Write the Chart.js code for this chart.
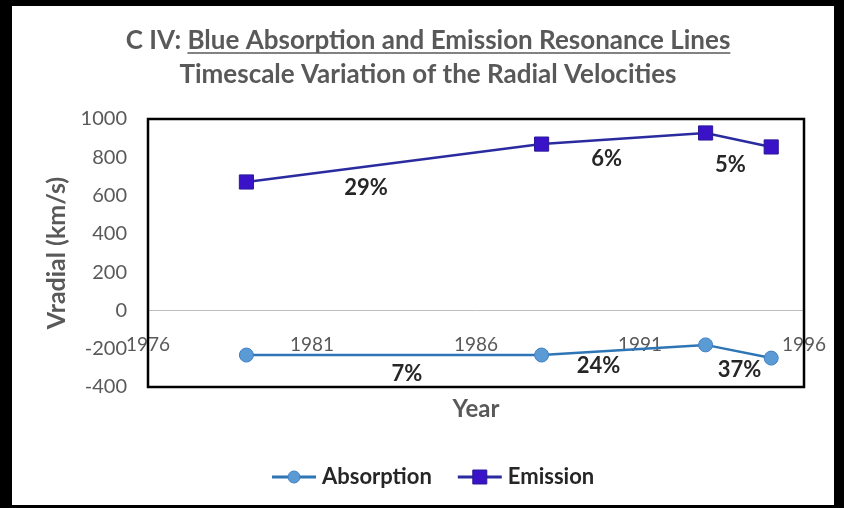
<!DOCTYPE html>
<html>
<head>
<meta charset="utf-8">
<script src="https://cdn.jsdelivr.net/npm/chart.js@4.4.1/dist/chart.umd.min.js"></script>
<style>
  html, body { margin: 0; padding: 0; background: #000; }
  #frame { position: absolute; left: 12px; top: 6px; width: 822px; height: 499px; background: #fff; }
</style>
</head>
<body>
<div id="frame"><canvas id="chart" width="822" height="499"></canvas></div>
<script>
// values
const years = [1979, 1988, 1993, 1995];
const absorption = [-233, -233, -180, -249];
const emission = [671, 869, 927, 854];
// percentage change between consecutive epochs
const absorptionChange = [7, 24, 37];
const emissionChange = [29, 6, 5];
const xTicks = [1976, 1981, 1986, 1991, 1996];
const yTicks = [-400, -200, 0, 200, 400, 600, 800, 1000];

const FONT = 'Lato, "Open Sans", sans-serif';
const GREY = '#595959';

// where each % label sits relative to the middle of its segment (px)
const emissionLabelShift = [[-28, 25], [-17, 20], [-8, 25]];
const absorptionLabelShift = [[13, 19], [-25, 16], [1, 18]];

const decor = {
    id: 'decor',
    beforeDatasetsDraw(chart) {
        const { ctx, chartArea: a } = chart;
        ctx.save();
        ctx.strokeStyle = '#000';
        ctx.lineWidth = 2.5;
        ctx.strokeRect(a.left, a.top, a.right - a.left, a.bottom - a.top);
        ctx.restore();
    },
    afterDraw(chart) {
        const { ctx, chartArea: a, scales } = chart;
        ctx.save();

        // title, second part underlined
        const cx = 416;
        ctx.font = 'bold 26px ' + FONT;
        ctx.fillStyle = GREY;
        ctx.textBaseline = 'alphabetic';
        ctx.textAlign = 'left';
        const pre = 'C IV: ';
        const main = 'Blue Absorption and Emission Resonance Lines';
        const wPre = ctx.measureText(pre).width;
        const wMain = ctx.measureText(main).width;
        let x0 = cx - (wPre + wMain) / 2;
        ctx.fillText(pre, x0, 43);
        ctx.fillText(main, x0 + wPre, 43);
        ctx.strokeStyle = GREY;
        ctx.lineWidth = 1.5;
        ctx.beginPath();
        ctx.moveTo(x0 + wPre, 47);
        ctx.lineTo(x0 + wPre + wMain, 47);
        ctx.stroke();
        ctx.textAlign = 'center';
        ctx.fillText('Timescale Variation of the Radial Velocities', cx, 77);

        // axis title under the plot
        ctx.font = 'bold 24px ' + FONT;
        ctx.textBaseline = 'middle';
        ctx.fillText('Year', (a.left + a.right) / 2, 403);

        // % labels
        ctx.font = 'bold 22px ' + FONT;
        ctx.fillStyle = '#262626';
        const putLabels = (vals, changes, shift) => {
            changes.forEach((c, i) => {
                const mx = (scales.x.getPixelForValue(years[i]) + scales.x.getPixelForValue(years[i + 1])) / 2;
                const my = (scales.y.getPixelForValue(vals[i]) + scales.y.getPixelForValue(vals[i + 1])) / 2;
                ctx.fillText(c + '%', mx + shift[i][0], my + shift[i][1]);
            });
        };
        putLabels(emission, emissionChange, emissionLabelShift);
        putLabels(absorption, absorptionChange, absorptionLabelShift);

        // legend: line with marker, then name
        ctx.font = 'bold 22px ' + FONT;
        ctx.textAlign = 'left';
        let lx = 260;
        const ly = 471;
        chart.data.datasets.forEach(ds => {
            ctx.strokeStyle = ds.borderColor;
            ctx.lineWidth = 3;
            ctx.beginPath();
            ctx.moveTo(lx, ly);
            ctx.lineTo(lx + 44, ly);
            ctx.stroke();
            ctx.fillStyle = ds.pointBackgroundColor;
            ctx.strokeStyle = ds.pointBorderColor;
            ctx.lineWidth = 1;
            ctx.beginPath();
            if (ds.pointStyle === 'rect') {
                ctx.rect(lx + 15, ly - 7, 14, 14);
            } else {
                ctx.arc(lx + 22, ly, 6, 0, Math.PI * 2);
            }
            ctx.fill();
            ctx.stroke();
            ctx.fillStyle = '#262626';
            ctx.fillText(ds.label, lx + 50, ly);
            lx += 50 + ctx.measureText(ds.label).width + 26;
        });
        ctx.restore();
    }
};

new Chart(document.getElementById('chart'), {
    type: 'line',
    data: {
        datasets: [
            {
                label: 'Absorption',
                data: years.map((x, i) => ({ x: x, y: absorption[i] })),
                borderColor: '#2E75B6',
                borderWidth: 2.5,
                pointStyle: 'circle',
                pointRadius: 7,
                pointBackgroundColor: '#5B9BD5',
                pointBorderColor: '#3F7FC4',
                pointBorderWidth: 1
            },
            {
                label: 'Emission',
                data: years.map((x, i) => ({ x: x, y: emission[i] })),
                borderColor: '#2B2BA0',
                borderWidth: 2.5,
                pointStyle: 'rect',
                pointRadius: 10,
                pointBackgroundColor: '#3A13C8',
                pointBorderColor: '#2A1A9A',
                pointBorderWidth: 1
            }
        ]
    },
    options: {
        responsive: false,
        animation: false,
        layout: { padding: { top: 113, right: 30, bottom: 118, left: 0 } },
        plugins: {
            legend: { display: false },
            tooltip: { enabled: false }
        },
        scales: {
            x: {
                type: 'linear',
                position: { y: 0 },
                min: 1976,
                max: 1996,
                afterBuildTicks: function (scale) {
                    scale.ticks = xTicks.map(v => ({ value: v }));
                },
                afterFit: function (scale) {
                    // labels hang over the frame; don't let them squeeze the plot
                    scale.paddingLeft = 0;
                    scale.paddingRight = 0;
                },
                ticks: {
                    padding: 23,
                    color: GREY,
                    font: { family: FONT, size: 19 },
                    maxRotation: 0,
                    callback: function (value) { return String(value); }
                },
                grid: { display: false, drawTicks: false },
                border: { color: '#BFBFBF', width: 1 }
            },
            y: {
                min: -400,
                max: 1000,
                afterBuildTicks: function (scale) {
                    scale.ticks = yTicks.map(v => ({ value: v }));
                },
                afterFit: function (scale) {
                    scale.width = 136;
                },
                ticks: {
                    padding: 21,
                    color: GREY,
                    font: { family: FONT, size: 20 },
                    callback: function (value) { return String(value); }
                },
                grid: { display: false, drawTicks: false },
                border: { display: false },
                title: {
                    display: true,
                    text: 'Vradial (km/s)',
                    color: GREY,
                    font: { family: FONT, size: 25, weight: 'bold' },
                    padding: { top: 30, bottom: 0 }
                }
            }
        }
    },
    plugins: [decor]
});
</script>
</body>
</html>
